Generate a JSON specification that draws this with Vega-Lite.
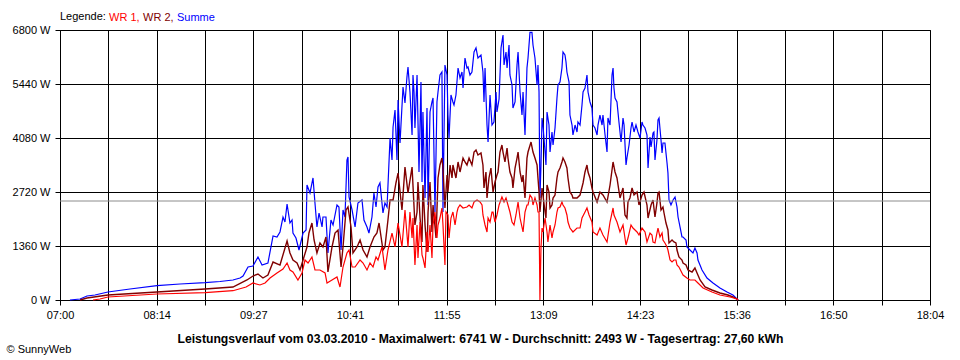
{
"$schema": "https://vega.github.io/schema/vega-lite/v6.json",
"width": 870, "height": 270,
"autosize": {"type": "none"},
"padding": {"left": 60, "top": 30, "right": 30, "bottom": 60},
"background": "white",
"config": {"view": {"stroke": "black", "strokeWidth": 1}, "font": "Liberation Sans"},
"datasets": {
"sum": [{"t":7.6,"w":0},{"t":15.3,"w":25},{"t":20.6,"w":101},{"t":26.7,"w":126},{"t":36.6,"w":201},{"t":53.4,"w":277},{"t":74.0,"w":360},{"t":91.6,"w":403},{"t":110.7,"w":436},{"t":122.1,"w":466},{"t":132.0,"w":504},{"t":137.4,"w":554},{"t":139.7,"w":604},{"t":143.5,"w":831},{"t":147.3,"w":856},{"t":151.1,"w":1083},{"t":154.2,"w":881},{"t":158.7,"w":932},{"t":162.6,"w":1612},{"t":165.6,"w":1587},{"t":167.9,"w":1713},{"t":170.2,"w":2090},{"t":171.7,"w":1964},{"t":173.3,"w":2418},{"t":175.5,"w":1939},{"t":177.1,"w":2015},{"t":177.8,"w":1687},{"t":180.1,"w":1561},{"t":182.4,"w":1259},{"t":185.5,"w":1687},{"t":187.8,"w":1763},{"t":188.5,"w":2896},{"t":190.8,"w":2695},{"t":193.1,"w":3073},{"t":194.6,"w":2443},{"t":196.1,"w":1839},{"t":197.7,"w":2191},{"t":200.0,"w":1839},{"t":200.7,"w":2090},{"t":203.0,"w":2090},{"t":204.5,"w":1184},{"t":206.8,"w":2015},{"t":208.4,"w":1889},{"t":211.4,"w":2393},{"t":212.9,"w":2342},{"t":214.5,"w":1259},{"t":216.0,"w":2267},{"t":217.5,"w":2090},{"t":219.0,"w":3526},{"t":219.8,"w":3601},{"t":220.6,"w":2594},{"t":222.9,"w":2267},{"t":225.2,"w":1839},{"t":227.4,"w":2443},{"t":230.5,"w":2519},{"t":232.0,"w":2015},{"t":234.3,"w":1839},{"t":235.8,"w":1687},{"t":238.1,"w":2090},{"t":239.6,"w":2695},{"t":241.2,"w":2342},{"t":242.7,"w":2846},{"t":244.2,"w":2947},{"t":246.5,"w":2191},{"t":248.0,"w":2443},{"t":249.6,"w":2342},{"t":251.9,"w":4080},{"t":253.4,"w":3526},{"t":254.2,"w":4357},{"t":255.7,"w":4785},{"t":257.2,"w":3526},{"t":258.0,"w":5037},{"t":259.5,"w":3954},{"t":261.8,"w":5364},{"t":263.3,"w":4961},{"t":264.8,"w":5616},{"t":265.6,"w":5868},{"t":267.1,"w":5238},{"t":268.7,"w":4156},{"t":269.4,"w":5667},{"t":270.2,"w":5238},{"t":270.9,"w":4332},{"t":272.5,"w":5667},{"t":274.0,"w":3224},{"t":275.5,"w":5490},{"t":276.3,"w":2972},{"t":277.0,"w":4735},{"t":278.6,"w":2569},{"t":280.1,"w":4836},{"t":280.9,"w":2393},{"t":282.4,"w":4735},{"t":283.9,"w":4987},{"t":284.7,"w":5087},{"t":286.2,"w":2216},{"t":287.7,"w":4987},{"t":288.5,"w":5238},{"t":290.0,"w":5667},{"t":291.5,"w":5742},{"t":292.3,"w":2216},{"t":293.8,"w":5918},{"t":295.4,"w":5667},{"t":296.1,"w":4659},{"t":296.9,"w":4080},{"t":298.4,"w":5163},{"t":299.9,"w":4987},{"t":300.7,"w":4911},{"t":302.2,"w":5163},{"t":303.8,"w":5843},{"t":305.3,"w":5591},{"t":306.8,"w":5742},{"t":307.6,"w":5339},{"t":309.1,"w":6095},{"t":310.6,"w":5843},{"t":311.4,"w":5868},{"t":312.9,"w":5667},{"t":314.4,"w":5742},{"t":316.0,"w":6246},{"t":317.5,"w":6347},{"t":319.0,"w":6095},{"t":321.3,"w":6170},{"t":322.8,"w":5742},{"t":323.6,"w":4987},{"t":324.4,"w":5843},{"t":325.9,"w":4407},{"t":326.7,"w":3979},{"t":328.2,"w":5163},{"t":329.7,"w":4407},{"t":331.2,"w":4483},{"t":332.8,"w":5238},{"t":333.5,"w":4735},{"t":335.1,"w":5062},{"t":336.6,"w":6347},{"t":338.1,"w":6674},{"t":338.9,"w":5918},{"t":340.4,"w":6246},{"t":341.2,"w":5843},{"t":342.7,"w":6422},{"t":343.4,"w":5667},{"t":345.0,"w":5415},{"t":345.7,"w":4836},{"t":347.3,"w":4987},{"t":348.8,"w":5918},{"t":349.6,"w":6246},{"t":351.1,"w":5238},{"t":352.6,"w":4659},{"t":353.4,"w":5238},{"t":354.9,"w":4156},{"t":356.4,"w":5843},{"t":357.2,"w":6095},{"t":358.7,"w":6741},{"t":360.2,"w":6741},{"t":361.0,"w":6422},{"t":362.5,"w":6095},{"t":364.1,"w":5415},{"t":364.8,"w":5918},{"t":365.6,"w":5238},{"t":366.3,"w":2569},{"t":367.1,"w":3400},{"t":367.9,"w":4584},{"t":368.6,"w":4407},{"t":370.2,"w":3727},{"t":370.9,"w":3400},{"t":371.7,"w":4735},{"t":373.2,"w":4407},{"t":374.0,"w":3727},{"t":375.5,"w":4231},{"t":376.3,"w":3904},{"t":377.8,"w":4332},{"t":379.3,"w":5087},{"t":380.1,"w":5415},{"t":381.6,"w":5490},{"t":383.1,"w":5843},{"t":383.9,"w":6246},{"t":385.4,"w":6170},{"t":386.2,"w":5994},{"t":386.9,"w":5742},{"t":388.5,"w":5490},{"t":389.2,"w":4659},{"t":390.8,"w":4407},{"t":391.5,"w":4156},{"t":393.1,"w":4407},{"t":394.6,"w":4231},{"t":395.3,"w":4483},{"t":396.9,"w":4407},{"t":398.4,"w":4911},{"t":399.2,"w":5238},{"t":400.7,"w":5339},{"t":402.2,"w":5667},{"t":403.0,"w":5238},{"t":404.5,"w":4987},{"t":406.0,"w":4836},{"t":406.8,"w":4407},{"t":408.3,"w":4332},{"t":409.9,"w":4156},{"t":410.6,"w":4407},{"t":412.1,"w":4659},{"t":413.7,"w":4407},{"t":414.4,"w":4659},{"t":416.0,"w":4156},{"t":417.5,"w":3727},{"t":418.2,"w":4584},{"t":419.8,"w":4407},{"t":421.3,"w":5667},{"t":422.1,"w":5843},{"t":422.8,"w":5339},{"t":423.6,"w":5087},{"t":425.1,"w":4987},{"t":426.6,"w":4483},{"t":428.2,"w":3979},{"t":429.7,"w":4584},{"t":430.5,"w":4407},{"t":432.0,"w":3400},{"t":432.7,"w":3576},{"t":434.3,"w":3904},{"t":435.8,"w":4332},{"t":436.6,"w":4483},{"t":438.1,"w":4231},{"t":439.6,"w":4407},{"t":441.1,"w":4231},{"t":442.7,"w":4080},{"t":444.2,"w":4483},{"t":444.9,"w":4407},{"t":446.5,"w":4332},{"t":448.0,"w":4156},{"t":448.8,"w":3324},{"t":450.3,"w":4105},{"t":451.1,"w":3853},{"t":452.6,"w":4206},{"t":453.3,"w":4231},{"t":454.1,"w":3526},{"t":455.6,"w":4030},{"t":456.4,"w":4533},{"t":457.2,"w":4584},{"t":458.7,"w":4030},{"t":459.5,"w":3702},{"t":460.2,"w":3954},{"t":461.7,"w":3954},{"t":463.3,"w":3450},{"t":464.0,"w":3198},{"t":464.8,"w":2519},{"t":466.3,"w":2393},{"t":467.9,"w":2519},{"t":469.4,"w":2594},{"t":470.9,"w":2342},{"t":471.7,"w":2090},{"t":473.2,"w":1839},{"t":474.7,"w":1587},{"t":475.5,"w":1587},{"t":477.8,"w":1511},{"t":478.5,"w":1335},{"t":480.8,"w":1259},{"t":483.1,"w":1184},{"t":484.6,"w":1310},{"t":486.2,"w":1184},{"t":486.9,"w":1007},{"t":490.0,"w":756},{"t":493.8,"w":554},{"t":498.4,"w":428},{"t":503.7,"w":302},{"t":509.1,"w":201},{"t":513.6,"w":126},{"t":516.7,"w":25},{"t":517.5,"w":0}],
"wr2": [{"t":15.3,"w":0},{"t":20.6,"w":50},{"t":36.6,"w":126},{"t":74.0,"w":201},{"t":110.7,"w":277},{"t":132.0,"w":327},{"t":142.7,"w":504},{"t":147.3,"w":604},{"t":151.1,"w":655},{"t":154.9,"w":554},{"t":158.7,"w":630},{"t":162.6,"w":957},{"t":167.9,"w":881},{"t":173.3,"w":1486},{"t":175.5,"w":1184},{"t":177.8,"w":1007},{"t":180.9,"w":932},{"t":183.2,"w":756},{"t":185.5,"w":1007},{"t":188.5,"w":1335},{"t":190.0,"w":1687},{"t":192.3,"w":1939},{"t":193.9,"w":1511},{"t":196.1,"w":1184},{"t":198.4,"w":1436},{"t":200.7,"w":1335},{"t":203.0,"w":1587},{"t":204.5,"w":705},{"t":207.6,"w":1335},{"t":209.9,"w":1687},{"t":212.2,"w":1763},{"t":214.5,"w":831},{"t":216.0,"w":1335},{"t":218.3,"w":2267},{"t":219.8,"w":2342},{"t":222.1,"w":1839},{"t":223.6,"w":1184},{"t":226.7,"w":1335},{"t":229.0,"w":1511},{"t":231.3,"w":1259},{"t":234.3,"w":1083},{"t":236.6,"w":1335},{"t":239.6,"w":1587},{"t":241.9,"w":1687},{"t":243.5,"w":1939},{"t":246.5,"w":1259},{"t":248.0,"w":1335},{"t":250.3,"w":2015},{"t":251.9,"w":2519},{"t":254.2,"w":2519},{"t":256.4,"w":2947},{"t":258.0,"w":3198},{"t":261.0,"w":2267},{"t":263.3,"w":3350},{"t":265.6,"w":2695},{"t":268.7,"w":3350},{"t":270.9,"w":1889},{"t":272.5,"w":2216},{"t":273.2,"w":2972},{"t":274.8,"w":2065},{"t":276.3,"w":1461},{"t":277.0,"w":2896},{"t":278.6,"w":1889},{"t":280.1,"w":1209},{"t":280.9,"w":2216},{"t":282.4,"w":2972},{"t":283.9,"w":1713},{"t":284.7,"w":2393},{"t":287.0,"w":1561},{"t":288.5,"w":3073},{"t":290.0,"w":3400},{"t":291.5,"w":3576},{"t":292.3,"w":3324},{"t":293.8,"w":2317},{"t":295.4,"w":3148},{"t":296.1,"w":2720},{"t":297.7,"w":3400},{"t":299.2,"w":3073},{"t":299.9,"w":3400},{"t":302.2,"w":3073},{"t":303.8,"w":3476},{"t":305.3,"w":3224},{"t":307.6,"w":3576},{"t":309.1,"w":3476},{"t":310.6,"w":3400},{"t":312.2,"w":3576},{"t":314.4,"w":3400},{"t":316.0,"w":3727},{"t":317.5,"w":3778},{"t":319.0,"w":3652},{"t":321.3,"w":3702},{"t":322.8,"w":3400},{"t":323.6,"w":2821},{"t":325.1,"w":3224},{"t":325.9,"w":2569},{"t":327.4,"w":3073},{"t":328.9,"w":3324},{"t":330.5,"w":2720},{"t":332.0,"w":2972},{"t":333.5,"w":3148},{"t":334.3,"w":3224},{"t":335.8,"w":3727},{"t":337.3,"w":3904},{"t":338.1,"w":3727},{"t":339.6,"w":3476},{"t":341.2,"w":3828},{"t":341.9,"w":3576},{"t":343.4,"w":3224},{"t":345.0,"w":3073},{"t":345.7,"w":2821},{"t":347.3,"w":3324},{"t":348.8,"w":3576},{"t":349.6,"w":3727},{"t":351.1,"w":3224},{"t":352.6,"w":2972},{"t":353.4,"w":3148},{"t":354.9,"w":2569},{"t":356.4,"w":3576},{"t":357.2,"w":3727},{"t":359.5,"w":3979},{"t":361.0,"w":3727},{"t":362.5,"w":3576},{"t":364.1,"w":3400},{"t":364.8,"w":3073},{"t":365.6,"w":2720},{"t":366.3,"w":2216},{"t":367.9,"w":2821},{"t":368.6,"w":2644},{"t":370.2,"w":2216},{"t":370.9,"w":2065},{"t":371.7,"w":2896},{"t":373.2,"w":2720},{"t":374.0,"w":2317},{"t":375.5,"w":2393},{"t":376.3,"w":2569},{"t":377.8,"w":2644},{"t":379.3,"w":3073},{"t":380.1,"w":3224},{"t":381.6,"w":3324},{"t":383.1,"w":3476},{"t":383.9,"w":3576},{"t":385.4,"w":3476},{"t":386.9,"w":3324},{"t":387.7,"w":3073},{"t":389.2,"w":2720},{"t":390.8,"w":2644},{"t":391.5,"w":2569},{"t":394.6,"w":2569},{"t":396.9,"w":2644},{"t":399.2,"w":2947},{"t":400.7,"w":3224},{"t":402.2,"w":3400},{"t":403.0,"w":3224},{"t":404.5,"w":3073},{"t":406.0,"w":2821},{"t":406.8,"w":2720},{"t":409.9,"w":2468},{"t":412.1,"w":2720},{"t":414.4,"w":2644},{"t":417.5,"w":2468},{"t":419.8,"w":2896},{"t":422.1,"w":3476},{"t":423.6,"w":3224},{"t":425.1,"w":3073},{"t":427.4,"w":2569},{"t":429.7,"w":2821},{"t":431.2,"w":2141},{"t":432.7,"w":2065},{"t":433.5,"w":2468},{"t":435.0,"w":2569},{"t":436.6,"w":2821},{"t":438.1,"w":2644},{"t":440.4,"w":2720},{"t":441.9,"w":2393},{"t":444.2,"w":2644},{"t":445.7,"w":2720},{"t":448.0,"w":2393},{"t":448.8,"w":2065},{"t":451.1,"w":2393},{"t":452.6,"w":2519},{"t":454.1,"w":2090},{"t":455.6,"w":2443},{"t":456.4,"w":2695},{"t":457.2,"w":2720},{"t":458.7,"w":2267},{"t":460.2,"w":2342},{"t":461.0,"w":2191},{"t":462.5,"w":1939},{"t":464.0,"w":1763},{"t":464.8,"w":1436},{"t":467.1,"w":1511},{"t":468.6,"w":1461},{"t":470.1,"w":1436},{"t":470.9,"w":1259},{"t":472.4,"w":1083},{"t":474.7,"w":1007},{"t":475.5,"w":932},{"t":477.8,"w":881},{"t":479.3,"w":756},{"t":482.4,"w":705},{"t":484.6,"w":806},{"t":486.2,"w":680},{"t":488.5,"w":504},{"t":492.3,"w":327},{"t":497.6,"w":252},{"t":503.7,"w":176},{"t":509.8,"w":126},{"t":513.6,"w":76},{"t":516.7,"w":25},{"t":517.5,"w":0}],
"wr1": [{"t":25.2,"w":0},{"t":30.5,"w":25},{"t":36.6,"w":76},{"t":74.0,"w":151},{"t":110.7,"w":184},{"t":132.0,"w":234},{"t":142.0,"w":327},{"t":147.3,"w":428},{"t":152.6,"w":378},{"t":156.5,"w":428},{"t":160.3,"w":554},{"t":165.6,"w":680},{"t":170.2,"w":781},{"t":173.3,"w":932},{"t":175.5,"w":756},{"t":177.8,"w":705},{"t":181.6,"w":504},{"t":184.7,"w":680},{"t":187.0,"w":1007},{"t":189.3,"w":932},{"t":192.3,"w":1083},{"t":194.6,"w":756},{"t":198.4,"w":756},{"t":202.3,"w":680},{"t":203.8,"w":428},{"t":207.6,"w":504},{"t":211.4,"w":579},{"t":213.7,"w":327},{"t":216.0,"w":831},{"t":219.0,"w":1184},{"t":220.6,"w":1259},{"t":222.9,"w":831},{"t":225.2,"w":831},{"t":229.0,"w":1007},{"t":231.3,"w":932},{"t":234.3,"w":756},{"t":236.6,"w":932},{"t":238.9,"w":831},{"t":241.2,"w":1083},{"t":242.7,"w":1007},{"t":245.8,"w":1335},{"t":248.0,"w":756},{"t":250.3,"w":1259},{"t":253.4,"w":1687},{"t":255.7,"w":1335},{"t":258.0,"w":1939},{"t":261.0,"w":1335},{"t":263.3,"w":2267},{"t":265.6,"w":1335},{"t":267.1,"w":2216},{"t":268.7,"w":1561},{"t":269.4,"w":2065},{"t":270.9,"w":881},{"t":272.5,"w":1889},{"t":273.2,"w":1058},{"t":274.8,"w":1964},{"t":276.3,"w":1133},{"t":277.0,"w":1058},{"t":278.6,"w":806},{"t":280.1,"w":1713},{"t":280.9,"w":1209},{"t":282.4,"w":1889},{"t":283.9,"w":1058},{"t":284.7,"w":1889},{"t":286.2,"w":2216},{"t":287.7,"w":1561},{"t":288.5,"w":1889},{"t":290.0,"w":2065},{"t":291.5,"w":2317},{"t":292.3,"w":1889},{"t":293.8,"w":881},{"t":294.6,"w":2216},{"t":296.1,"w":2141},{"t":296.9,"w":1561},{"t":298.4,"w":2065},{"t":299.9,"w":2216},{"t":301.5,"w":1889},{"t":303.0,"w":2216},{"t":303.8,"w":2317},{"t":305.3,"w":2393},{"t":307.6,"w":2317},{"t":310.6,"w":2342},{"t":312.2,"w":2393},{"t":314.4,"w":2317},{"t":316.0,"w":2468},{"t":318.3,"w":2519},{"t":320.6,"w":2468},{"t":322.1,"w":2393},{"t":322.8,"w":2141},{"t":324.4,"w":1889},{"t":325.9,"w":1713},{"t":326.7,"w":2065},{"t":328.2,"w":1964},{"t":329.7,"w":2216},{"t":330.5,"w":2216},{"t":332.0,"w":1964},{"t":333.5,"w":2141},{"t":335.1,"w":2393},{"t":337.3,"w":2594},{"t":338.9,"w":2468},{"t":340.4,"w":2569},{"t":341.9,"w":2393},{"t":343.4,"w":2216},{"t":345.0,"w":1964},{"t":346.5,"w":1889},{"t":348.0,"w":2141},{"t":349.6,"w":2468},{"t":351.1,"w":2065},{"t":353.4,"w":1713},{"t":354.9,"w":2216},{"t":356.4,"w":2393},{"t":357.2,"w":2393},{"t":358.7,"w":2644},{"t":360.2,"w":2569},{"t":361.0,"w":2393},{"t":362.5,"w":2569},{"t":364.1,"w":2393},{"t":364.8,"w":2216},{"t":365.6,"w":2216},{"t":366.3,"w":0},{"t":367.1,"w":1310},{"t":367.9,"w":1813},{"t":368.6,"w":1713},{"t":370.2,"w":2065},{"t":371.7,"w":1713},{"t":372.4,"w":1461},{"t":374.0,"w":1889},{"t":375.5,"w":1561},{"t":376.3,"w":1713},{"t":377.8,"w":1889},{"t":379.3,"w":2216},{"t":380.1,"w":2317},{"t":381.6,"w":2342},{"t":383.1,"w":2468},{"t":383.9,"w":2393},{"t":385.4,"w":2317},{"t":386.9,"w":2141},{"t":387.7,"w":1964},{"t":389.2,"w":1813},{"t":391.5,"w":1713},{"t":394.6,"w":1813},{"t":396.9,"w":1813},{"t":398.4,"w":2065},{"t":400.7,"w":2216},{"t":402.2,"w":2317},{"t":403.8,"w":2141},{"t":406.0,"w":1964},{"t":406.8,"w":1713},{"t":409.9,"w":1637},{"t":412.1,"w":1813},{"t":414.4,"w":1637},{"t":417.5,"w":1461},{"t":419.8,"w":1964},{"t":422.1,"w":2317},{"t":422.8,"w":2141},{"t":425.1,"w":1964},{"t":427.4,"w":1713},{"t":429.7,"w":1889},{"t":432.0,"w":1385},{"t":433.5,"w":1561},{"t":435.8,"w":1889},{"t":437.3,"w":1813},{"t":440.4,"w":1713},{"t":441.9,"w":1637},{"t":444.2,"w":1813},{"t":446.5,"w":1713},{"t":448.0,"w":1461},{"t":450.3,"w":1687},{"t":451.8,"w":1637},{"t":452.6,"w":1461},{"t":454.1,"w":1436},{"t":455.6,"w":1687},{"t":456.4,"w":1813},{"t":457.9,"w":1587},{"t":459.5,"w":1687},{"t":460.2,"w":1511},{"t":461.7,"w":1436},{"t":463.3,"w":1335},{"t":464.0,"w":1259},{"t":465.6,"w":1007},{"t":467.1,"w":957},{"t":468.6,"w":1007},{"t":470.1,"w":1007},{"t":470.9,"w":881},{"t":472.4,"w":831},{"t":474.7,"w":680},{"t":475.5,"w":630},{"t":478.5,"w":554},{"t":480.8,"w":504},{"t":484.6,"w":504},{"t":486.9,"w":428},{"t":490.8,"w":302},{"t":497.6,"w":201},{"t":503.7,"w":126},{"t":511.4,"w":76},{"t":516.7,"w":25},{"t":517.5,"w":0}],
"avg": [{"avg": 2493}]
},
"layer": [
{"data": {"name": "sum"}, "mark": {"type": "line", "strokeWidth": 1.2},
 "encoding": {
  "x": {"field": "t", "type": "quantitative", "scale": {"domain": [0, 664], "nice": false, "zero": false},
   "axis": {"values": [0,36.8889,73.7778,110.6667,147.5556,184.4444,221.3333,258.2222,295.1111,332,368.8889,405.7778,442.6667,479.5556,516.4444,553.3333,590.2222,627.1111,664],
    "labelExpr": "['07:00','','08:14','','09:27','','10:41','','11:55','','13:09','','14:23','','15:36','','16:50','','18:04'][round(datum.value/36.8889)]",
    "grid": true, "gridColor": "black", "gridOpacity": 1, "gridWidth": 1,
    "domainColor": "black", "tickColor": "black", "tickSize": 5, "tickWidth": 1,
    "labelColor": "black", "labelFontSize": 11, "labelFont": "Liberation Sans", "labelPadding": 4,
    "labelOverlap": false, "labelFlush": false,
    "title": "Leistungsverlauf vom 03.03.2010 - Maximalwert: 6741 W - Durchschnitt: 2493 W - Tagesertrag: 27,60 kWh",
    "titleFont": "Liberation Sans", "titleFontSize": 12.2, "titleFontWeight": "bold", "titleColor": "black",
    "titleX": 420, "titleY": 42, "titleAlign": "center", "titleBaseline": "alphabetic"}},
  "y": {"field": "w", "type": "quantitative", "scale": {"domain": [0, 6800], "nice": false},
   "axis": {"values": [0,1360,2720,4080,5440,6800], "labelExpr": "datum.value + ' W'",
    "grid": true, "gridColor": "black", "gridOpacity": 1, "gridWidth": 1,
    "domainColor": "black", "tickColor": "black", "tickSize": 5,
    "labelColor": "black", "labelFontSize": 11, "labelFont": "Liberation Sans", "labelPadding": 5,
    "title": "© SunnyWeb", "titleAngle": 0, "titleX": -54, "titleY": 322, "titleAlign": "left", "titleBaseline": "alphabetic",
    "titleFont": "Liberation Sans", "titleFontSize": 11, "titleFontWeight": "normal", "titleColor": "black"}},
  "color": {"datum": "Summe", "type": "nominal",
   "scale": {"domain": ["WR 1", "WR 2", "Summe"], "range": ["#FF0000", "#800000", "#0000FF"]},
   "legend": {"title": "Legende:", "orient": "none", "legendX": 0, "legendY": -18, "direction": "horizontal",
    "titleOrient": "left", "titleFontWeight": "normal", "titleFontSize": 11, "titleFont": "Liberation Sans", "titleColor": "black",
    "titlePadding": 3, "labelFontSize": 11, "labelFont": "Liberation Sans",
    "symbolSize": 0, "symbolOpacity": 0, "symbolStrokeWidth": 0, "labelOffset": -11, "columnPadding": 3,
    "labelExpr": "datum.label == 'Summe' ? datum.label : datum.label + ','",
    "encode": {"labels": {"update": {"fill": {"scale": "color", "field": "value"}}}}}}
 }},
{"data": {"name": "wr2"}, "mark": {"type": "line", "strokeWidth": 1.4},
 "encoding": {"x": {"field": "t", "type": "quantitative"}, "y": {"field": "w", "type": "quantitative"}, "color": {"datum": "WR 2", "type": "nominal"}}},
{"data": {"name": "wr1"}, "mark": {"type": "line", "strokeWidth": 1.2},
 "encoding": {"x": {"field": "t", "type": "quantitative"}, "y": {"field": "w", "type": "quantitative"}, "color": {"datum": "WR 1", "type": "nominal"}}},
{"data": {"name": "avg"}, "mark": {"type": "rule", "color": "#8c8c8c", "strokeWidth": 1},
 "encoding": {"y": {"field": "avg", "type": "quantitative"}}}
]
}
